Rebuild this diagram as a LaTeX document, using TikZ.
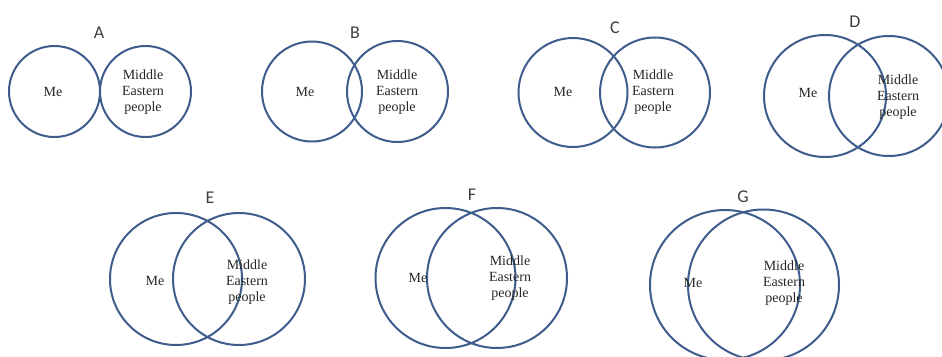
\documentclass[tikz,border=0pt]{standalone}
\usepackage{fontspec}
\setmainfont{Liberation Serif}
\newfontfamily\labelfont{Carlito}
\usepackage{xcolor}
\usetikzlibrary{shapes,positioning,calc}

\definecolor{vennblue}{RGB}{62,92,140}
\definecolor{labelgray}{RGB}{64,64,64}

\begin{document}
\begin{tikzpicture}[x=1pt, y=-1pt, semithick, align=center]

    \tikzstyle{venn}=[draw=vennblue,line width=2pt,circle,inner sep=0pt]
    \tikzstyle{tag}=[font=\labelfont\fontsize{18}{18}\selectfont,text=labelgray,inner sep=0pt]
    \tikzstyle{who}=[font=\fontsize{14}{16}\selectfont,text=black!85,inner sep=0pt]

    \useasboundingbox (0,0) rectangle (942,356);
    \clip (0,0) rectangle (942,356);

    % top row
    \node[venn, minimum size=91pt]  (A1) at (54.5,91.5)  {};
    \node[venn, minimum size=91pt]  (A2) at (145.5,91.5) {};
    \node[tag]                      (A)  at (99,33)      {A};
    \node[who]                      (Ame) at (53,92)     {Me};
    \node[who]                      (Amid) at (143,92)   {Middle\\Eastern\\people};

    \node[venn, minimum size=100pt] (B1) at (312,91.5)   {};
    \node[venn, minimum size=101pt] (B2) at (397.5,91.5) {};
    \node[tag]                      (B)  at (355,33)     {B};
    \node[who]                      (Bme) at (305,92)    {Me};
    \node[who]                      (Bmid) at (397,92)   {Middle\\Eastern\\people};

    \node[venn, minimum size=109pt] (C1) at (573,92.5)   {};
    \node[venn, minimum size=110pt] (C2) at (655,92.5)   {};
    \node[tag]                      (C)  at (615,28)     {C};
    \node[who]                      (Cme) at (563,92)    {Me};
    \node[who]                      (Cmid) at (653,92)   {Middle\\Eastern\\people};

    \node[venn, minimum size=122pt] (D1) at (825,96)     {};
    \node[venn, minimum size=120pt] (D2) at (889,96)     {};
    \node[tag]                      (D)  at (855,22)     {D};
    \node[who]                      (Dme) at (808,93)    {Me};
    \node[who]                      (Dmid) at (898,97)   {Middle\\Eastern\\people};

    % bottom row
    \node[venn, minimum size=132pt] (E1) at (176,279)    {};
    \node[venn, minimum size=132pt] (E2) at (239,279)    {};
    \node[tag]                      (E)  at (210,198)    {E};
    \node[who]                      (Eme) at (155,281)   {Me};
    \node[who]                      (Emid) at (247,282)  {Middle\\Eastern\\people};

    \node[venn, minimum size=140pt] (F1) at (445.5,278)  {};
    \node[venn, minimum size=140pt] (F2) at (497,278)    {};
    \node[tag]                      (F)  at (472,195)    {F};
    \node[who]                      (Fme) at (418,278)   {Me};
    \node[who]                      (Fmid) at (510,278)  {Middle\\Eastern\\people};

    \node[venn, minimum size=150pt] (G1) at (725,285)    {};
    \node[venn, minimum size=151pt] (G2) at (763.5,285)  {};
    \node[tag]                      (G)  at (743,197)    {G};
    \node[who]                      (Gme) at (693,283)   {Me};
    \node[who]                      (Gmid) at (784,283)  {Middle\\Eastern\\people};
\end{tikzpicture}
\end{document}
